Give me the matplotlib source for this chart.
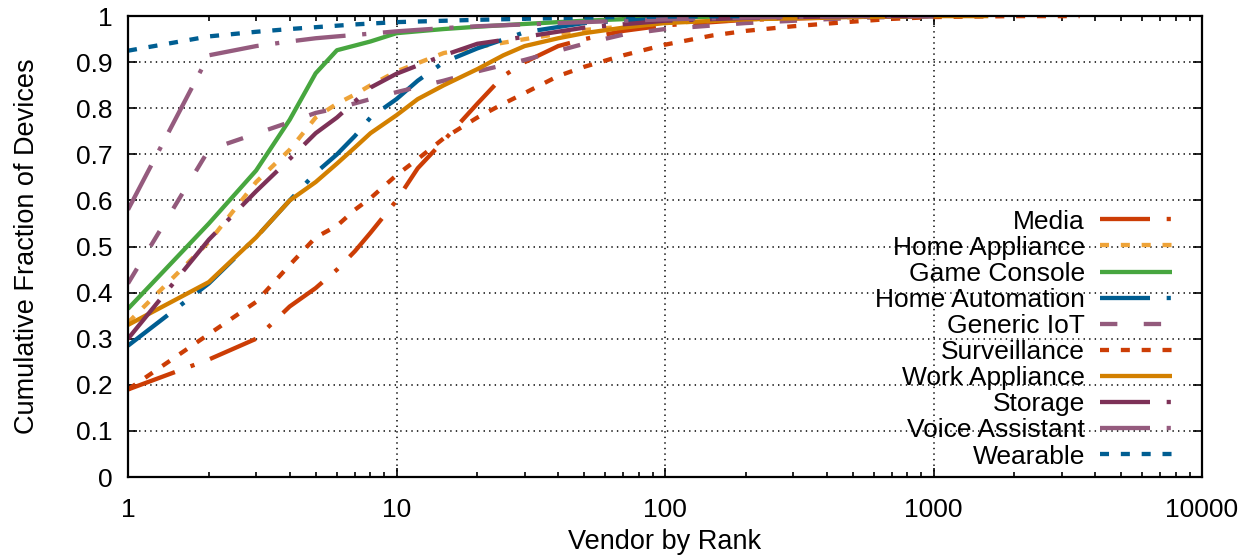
import matplotlib
matplotlib.use('Agg')
import matplotlib.pyplot as plt
from matplotlib.ticker import FixedLocator, LogLocator, NullFormatter, FixedFormatter

plt.rcParams['font.family'] = ['Liberation Sans', 'DejaVu Sans']
plt.rcParams['font.size'] = 19
plt.rcParams['lines.scale_dashes'] = False

# values (rank -> cumulative fraction)
media_rank = [1, 2, 3, 4, 5, 6, 7, 8, 10, 12, 15, 20, 25, 30, 40, 50, 70, 100, 200, 500, 1000]
media_frac = [0.19, 0.255, 0.30, 0.37, 0.41, 0.45, 0.49, 0.53, 0.60, 0.67, 0.73, 0.81, 0.87, 0.90, 0.935,
              0.95, 0.968, 0.98, 0.992, 0.998, 1.0]

homeapp_rank = [1, 2, 3, 4, 5, 6, 7, 8, 10, 15, 20, 30, 50, 100, 200, 500, 1000]
homeapp_frac = [0.335, 0.51, 0.64, 0.71, 0.78, 0.81, 0.83, 0.85, 0.88, 0.92, 0.933, 0.95, 0.97, 0.985,
                0.993, 0.998, 1.0]

game_rank = [1, 2, 3, 4, 5, 6, 8, 10, 15, 20, 30, 50, 100, 200]
game_frac = [0.365, 0.55, 0.665, 0.775, 0.876, 0.926, 0.945, 0.963, 0.972, 0.977, 0.983, 0.99, 0.997, 1.0]

homeauto_rank = [1, 2, 3, 4, 5, 6, 7, 8, 10, 12, 15, 20, 30, 50, 100, 200, 1000]
homeauto_frac = [0.285, 0.42, 0.52, 0.60, 0.66, 0.70, 0.74, 0.78, 0.82, 0.86, 0.90, 0.93, 0.965, 0.985,
                 0.995, 0.998, 1.0]

iot_rank = [1, 2, 3, 4, 5, 6, 8, 10, 15, 20, 30, 50, 70, 100, 200, 500, 1000]
iot_frac = [0.42, 0.71, 0.745, 0.77, 0.79, 0.80, 0.82, 0.835, 0.86, 0.88, 0.905, 0.94, 0.96, 0.972,
            0.985, 0.996, 1.0]

surv_rank = [1, 2, 3, 4, 5, 6, 7, 8, 10, 12, 15, 20, 25, 30, 40, 50, 70, 100, 150, 200, 300, 500, 700,
             1000, 2000, 3500]
surv_frac = [0.19, 0.31, 0.38, 0.46, 0.52, 0.545, 0.58, 0.605, 0.655, 0.69, 0.735, 0.78, 0.81, 0.833,
             0.87, 0.89, 0.915, 0.938, 0.958, 0.968, 0.978, 0.988, 0.994, 0.998, 1.0, 1.0]

work_rank = [1, 2, 3, 4, 5, 6, 7, 8, 10, 12, 15, 20, 25, 30, 40, 50, 70, 100, 200, 500, 1000, 1600]
work_frac = [0.33, 0.423, 0.52, 0.60, 0.64, 0.68, 0.715, 0.746, 0.785, 0.82, 0.85, 0.885, 0.915, 0.935,
             0.952, 0.963, 0.975, 0.985, 0.993, 0.998, 1.0, 1.0]

storage_rank = [1, 2, 3, 4, 5, 6, 7, 8, 10, 15, 20, 30, 50, 100, 200, 500, 1000]
storage_frac = [0.30, 0.515, 0.62, 0.69, 0.746, 0.78, 0.815, 0.845, 0.875, 0.915, 0.94, 0.955, 0.975,
                0.99, 0.996, 1.0, 1.0]

voice_rank = [1, 2, 3, 4, 5, 6, 8, 10, 15, 20, 30, 50, 100, 200, 500, 1000]
voice_frac = [0.58, 0.915, 0.935, 0.945, 0.952, 0.956, 0.962, 0.967, 0.974, 0.978, 0.982, 0.987, 0.993,
              0.997, 1.0, 1.0]

wear_rank = [1, 2, 3, 4, 5, 7, 10, 20, 50, 100, 200]
wear_frac = [0.925, 0.956, 0.966, 0.972, 0.976, 0.982, 0.987, 0.992, 0.997, 0.999, 1.0]

y_ticks = [0, 0.1, 0.2, 0.3, 0.4, 0.5, 0.6, 0.7, 0.8, 0.9, 1]
y_labels = ['0', '0.1', '0.2', '0.3', '0.4', '0.5', '0.6', '0.7', '0.8', '0.9', '1']
x_ticks = [1, 10, 100, 1000, 10000]
x_labels = ['1', '10', '100', '1000', '10000']

dashdot = (0, (36, 12, 3, 12))
short = (0, (6.5, 8.5))
longgap = (0, (12.5, 19))


def main():
    series = [
        ('Media', media_rank, media_frac, '#cc3d05', dashdot),
        ('Home Appliance', homeapp_rank, homeapp_frac, '#eea338', short),
        ('Game Console', game_rank, game_frac, '#47a63f', '-'),
        ('Home Automation', homeauto_rank, homeauto_frac, '#005e92', dashdot),
        ('Generic IoT', iot_rank, iot_frac, '#935a7c', longgap),
        ('Surveillance', surv_rank, surv_frac, '#cc3d05', short),
        ('Work Appliance', work_rank, work_frac, '#d38000', '-'),
        ('Storage', storage_rank, storage_frac, '#7d3157', dashdot),
        ('Voice Assistant', voice_rank, voice_frac, '#955b7e', dashdot),
        ('Wearable', wear_rank, wear_frac, '#005e92', short),
    ]

    fig = plt.figure(figsize=(12.5, 5.56), dpi=100)
    ax = fig.add_axes([0.1024, 0.142, 0.8592, 0.829])

    for name, r, f, c, ls in series:
        ax.plot(r, f, color=c, linestyle=ls, linewidth=3.1, label=name,
                dash_capstyle='butt', solid_capstyle='butt')

    ax.set_xscale('log')
    ax.set_xlim(1, 10000)
    ax.set_ylim(0, 1)
    ax.xaxis.set_major_locator(FixedLocator(x_ticks))
    ax.xaxis.set_major_formatter(FixedFormatter(x_labels))
    ax.xaxis.set_minor_locator(LogLocator(base=10, subs=range(2, 10)))
    ax.xaxis.set_minor_formatter(NullFormatter())
    ax.yaxis.set_major_locator(FixedLocator(y_ticks))
    ax.yaxis.set_major_formatter(FixedFormatter(y_labels))

    ax.tick_params(which='both', direction='in', top=True, right=True, width=1.2)
    ax.tick_params(which='major', length=6.5)
    ax.tick_params(which='minor', length=3.5)
    ax.tick_params(axis='x', which='major', pad=15)
    ax.tick_params(axis='y', which='major', pad=11)

    ax.grid(True, which='major', color='black', linestyle=(0, (1, 3)), linewidth=1.1)
    for s in ax.spines.values():
        s.set_linewidth(1.6)

    ax.set_xlabel('Vendor by Rank', fontsize=19.5, labelpad=5)
    ax.set_ylabel('Cumulative Fraction of Devices', fontsize=19.5, labelpad=26)

    ax.legend(loc='lower right', bbox_to_anchor=(0.98, 0.0), frameon=False,
              markerfirst=False, handlelength=2.75, handletextpad=0.55,
              labelspacing=0.08, borderaxespad=0.12, borderpad=0.2)

    plt.savefig('out.png', dpi=100)


if __name__ == '__main__':
    main()
